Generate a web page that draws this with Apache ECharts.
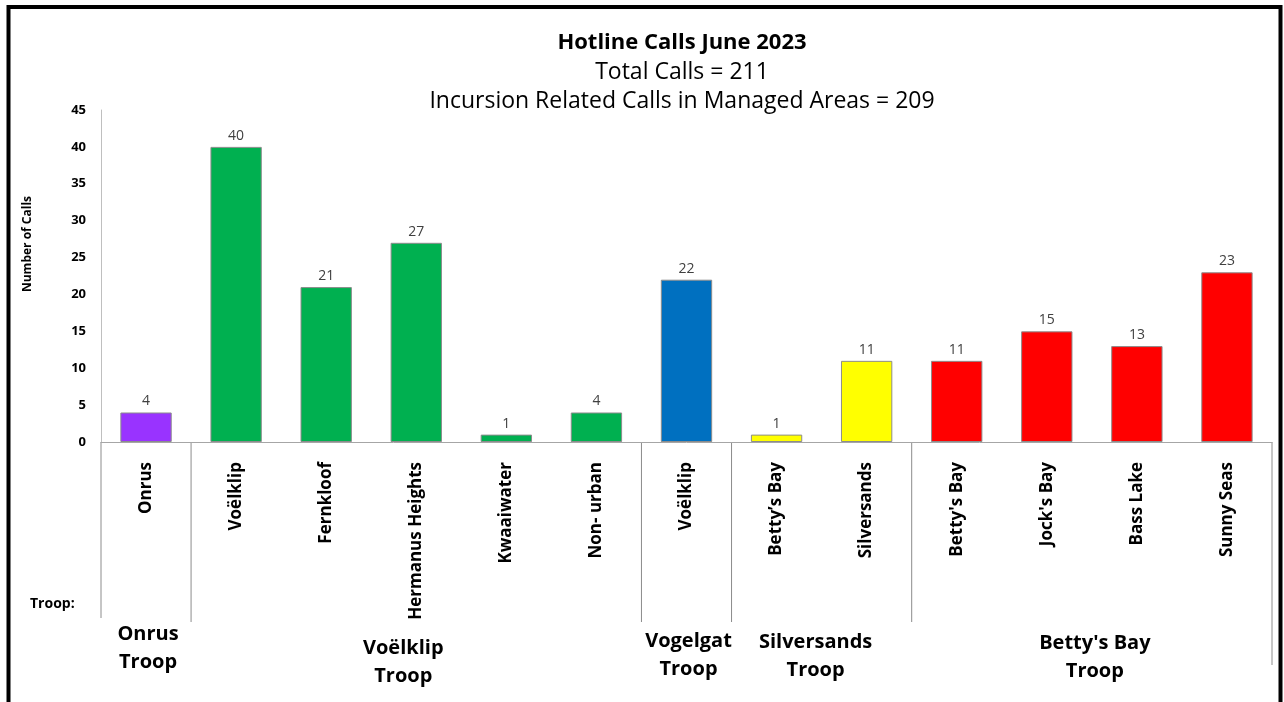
<!DOCTYPE html>
<html>
<head>
<meta charset="utf-8">
<script src="https://cdn.jsdelivr.net/npm/echarts@6/dist/echarts.min.js"></script>
<style>
  html, body { margin: 0; padding: 0; background: #fff; }
  #chart { width: 1284px; height: 702px; }
</style>
</head>
<body>
<div id="chart"></div>
<script>
// data
const areas = ['Onrus', 'Voëlklip', 'Fernkloof', 'Hermanus Heights', 'Kwaaiwater', 'Non- urban',
  'Voëlklip', "Betty’s Bay", 'Silversands', "Betty's Bay", "Jock's Bay", 'Bass Lake', 'Sunny Seas'];
const calls = [4, 40, 21, 27, 1, 4, 22, 1, 11, 11, 15, 13, 23];
const troops = ['Onrus\nTroop', 'Voëlklip\nTroop', 'Vogelgat\nTroop', 'Silversands\nTroop', "Betty's Bay\nTroop"];
const troopSizes = [1, 5, 1, 2, 4];
const troopColors = ['#9933FF', '#00B050', '#0070C0', '#FFFF00', '#FF0000'];
const yTicks = [0, 5, 10, 15, 20, 25, 30, 35, 40, 45];
const titleLines = ['Hotline Calls June 2023', 'Total Calls = 211', 'Incursion Related Calls in Managed Areas = 209'];

// colour per bar from its troop
const barColors = [];
troopSizes.forEach((n, i) => { for (let k = 0; k < n; k++) barColors.push(troopColors[i]); });

const chart = echarts.init(document.getElementById('chart'));
const font = 'Open Sans';

chart.setOption({
  animation: false,
  textStyle: { fontFamily: font },
  grid: { left: 101, right: 12, top: 110, bottom: 260 },
  xAxis: {
    type: 'category',
    data: areas,
    axisLine: { lineStyle: { color: '#a6a6a6', width: 1 } },
    axisTick: { show: false },
    axisLabel: { interval: 0, rotate: 90, margin: 20, fontFamily: font, fontSize: 17,
      fontWeight: 'bold', color: '#000' }
  },
  yAxis: {
    type: 'value',
    min: yTicks[0],
    max: yTicks[yTicks.length - 1],
    interval: 5,
    axisLine: { show: true, lineStyle: { color: '#bfbfbf' } },
    axisTick: { show: false },
    splitLine: { show: false },
    axisLabel: { fontFamily: font, fontSize: 13, fontWeight: 'bold', color: '#000', margin: 15 }
  },
  series: [{
    type: 'bar',
    barWidth: '57%',
    data: calls.map((v, i) => ({ value: v, itemStyle: { color: barColors[i] } })),
    itemStyle: { borderColor: '#8c8c8c', borderWidth: 1 },
    label: { show: true, position: 'top', distance: 4, fontFamily: font, fontSize: 14, color: '#404040' }
  }]
});

// titles, group separators and troop labels (placed through the category scale)
function drawGroups() {
  const x0 = chart.convertToPixel({ xAxisIndex: 0 }, 0);
  const x1 = chart.convertToPixel({ xAxisIndex: 0 }, 1);
  const band = x1 - x0;
  const yZero = chart.convertToPixel({ yAxisIndex: 0 }, 0);
  const edge = i => x0 - band / 2 + i * band;
  const els = [];
  const lineStyle = { stroke: '#8c8c8c', lineWidth: 1 };

  const titleY = [43, 72, 101];
  titleLines.forEach((t, i) => {
    els.push({ type: 'text', x: 682, y: titleY[i],
      style: { text: t, fontFamily: font, fontSize: i === 0 ? 22 : 23, fontWeight: i === 0 ? 'bold' : 'normal',
        fill: '#000', align: 'center', verticalAlign: 'middle' } });
  });

  let start = 0;
  const labelY = [648, 662, 655, 656, 657];
  const labelDx = [2, -13, 2, -6, 3];
  els.push({ type: 'line', shape: { x1: edge(0), y1: yZero, x2: edge(0), y2: 618 }, style: lineStyle });
  troopSizes.forEach((n, i) => {
    const end = start + n;
    const bottom = end === areas.length ? 665 : 622;
    els.push({ type: 'line', shape: { x1: edge(end), y1: yZero, x2: edge(end), y2: bottom }, style: lineStyle });
    els.push({
      type: 'text', x: (edge(start) + edge(end)) / 2 + labelDx[i], y: labelY[i],
      style: { text: troops[i], fontFamily: font, fontSize: 20, fontWeight: 'bold', fill: '#000',
        align: 'center', verticalAlign: 'middle', lineHeight: 28 }
    });
    start = end;
  });
  els.push({ type: 'text', x: 30, y: 604,
    style: { text: 'Troop:', fontFamily: font, fontSize: 14, fontWeight: 'bold', fill: '#000',
      verticalAlign: 'middle' } });
  els.push({ type: 'text', x: 28, y: 244, rotation: Math.PI / 2,
    style: { text: 'Number of Calls', fontFamily: font, fontSize: 12, fontWeight: 'bold', fill: '#000',
      align: 'center', verticalAlign: 'middle' } });
  els.push({ type: 'rect', shape: { x: 8.5, y: 7, width: 1272, height: 720 },
    style: { fill: 'none', stroke: '#000', lineWidth: 4 } });
  chart.setOption({ graphic: els });
}
drawGroups();
</script>
</body>
</html>
